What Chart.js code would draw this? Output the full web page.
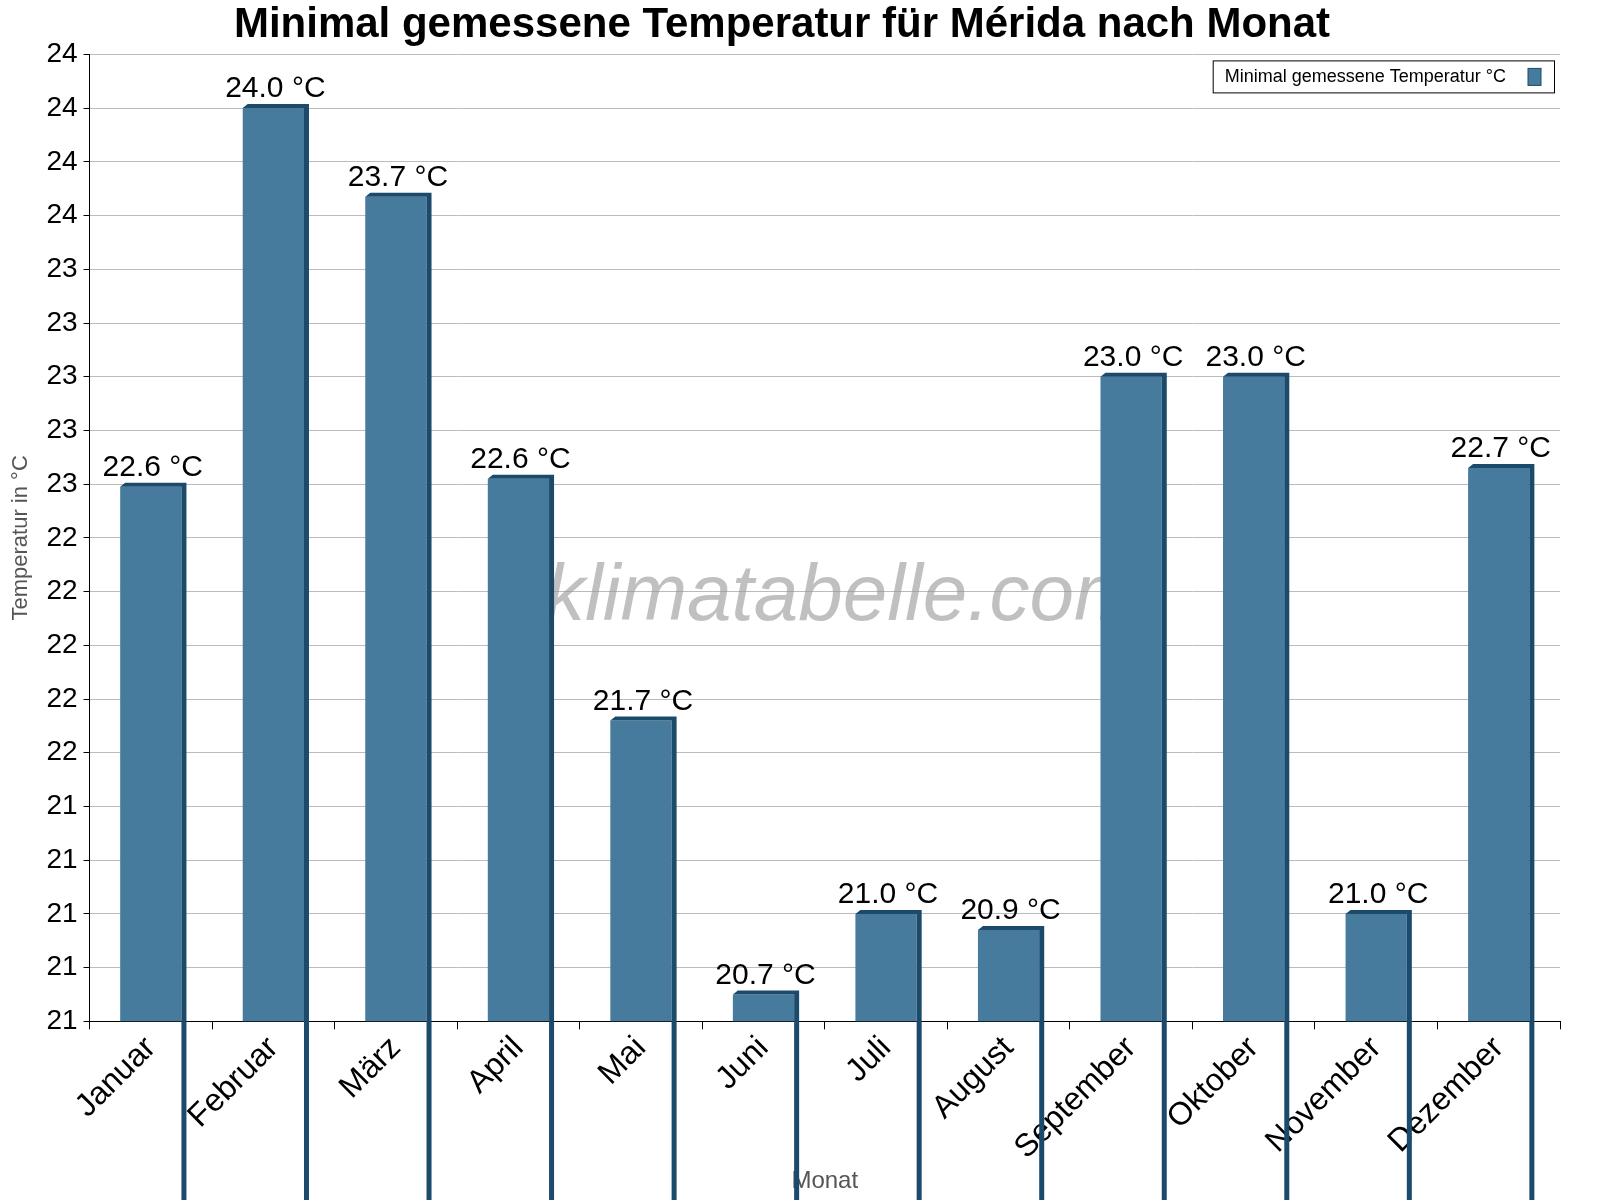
<!DOCTYPE html>
<html><head><meta charset="utf-8">
<script src="https://cdn.jsdelivr.net/npm/chart.js@4/dist/chart.umd.min.js"></script>
<style>html,body{margin:0;padding:0;background:#fff}#wrap{width:1600px;height:1200px}</style>
</head><body><div id="wrap"><canvas id="c"></canvas></div>
<script>
const categories=["Januar","Februar","März","April","Mai","Juni","Juli","August","September","Oktober","November","Dezember"];
const values=[22.59,24.0,23.67,22.62,21.72,20.7,21.0,20.94,23.0,23.0,21.0,22.66];
const seriesName="Minimal gemessene Temperatur °C";
const titleText="Minimal gemessene Temperatur für Mérida nach Monat";
const yMin=20.6, yMax=24.2, yStep=0.2;
const F="'Liberation Sans', Arial, sans-serif";

const deco={id:'deco',
 beforeDatasetsDraw(ch){const ctx=ch.ctx,a=ch.chartArea;ctx.save();
  ctx.font="italic 80px "+F;ctx.fillStyle="rgba(150,150,150,0.6)";ctx.textAlign="center";ctx.textBaseline="middle";
  ctx.fillText("klimatabelle.com",(a.left+a.right)/2+18,(a.top+a.bottom)/2+60);ctx.restore();},
 afterDatasetsDraw(ch){const ctx=ch.ctx,a=ch.chartArea;const meta=ch.getDatasetMeta(0);ctx.save();
  meta.data.forEach((b,i)=>{const w=b.width,l=b.x-w/2,r=b.x+w/2,t=b.y,bot=b.base,d=5;
   ctx.fillStyle="#1b4a6b";
   ctx.beginPath();ctx.moveTo(l,t);ctx.lineTo(l+d,t-d+1);ctx.lineTo(r+d,t-d+1);ctx.lineTo(r+d,bot);ctx.lineTo(r,bot);ctx.lineTo(r,t);ctx.closePath();ctx.fill();
   ctx.font="30px "+F;ctx.fillStyle="#000";ctx.textAlign="center";ctx.textBaseline="bottom";
   ctx.fillText(values[i].toFixed(1)+" °C",b.x+2,t-4);});
  // legend
  ctx.font="18px "+F;const tw=ctx.measureText(seriesName).width;const bw=tw+60,bh=32,bx=a.right-6-bw,by=a.top+6;
  ctx.fillStyle="#fff";ctx.fillRect(bx,by,bw,bh);ctx.strokeStyle="#000";ctx.lineWidth=1;ctx.strokeRect(bx+0.5,by+0.5,bw,bh);
  ctx.fillStyle="#000";ctx.textAlign="left";ctx.textBaseline="middle";ctx.fillText(seriesName,bx+12,by+bh/2+1);
  ctx.fillStyle="#467b9e";ctx.fillRect(bx+bw-26,by+8,13,17);ctx.strokeStyle="#1b4a6b";ctx.strokeRect(bx+bw-26,by+8,13,17);
  ctx.restore();}};

new Chart(document.getElementById('c'),{type:'bar',
 data:{labels:categories,datasets:[{label:seriesName,data:values,backgroundColor:"#467b9e",borderWidth:0,barPercentage:0.5,categoryPercentage:1}]},
 options:{responsive:true,maintainAspectRatio:false,animation:false,
  layout:{padding:{left:4,right:40,top:0,bottom:0}},
  plugins:{legend:{display:false},tooltip:{enabled:false},
   title:{display:true,text:titleText,color:"#000",font:{family:F,size:42},padding:{top:0,bottom:4}}},
  scales:{
   x:{grid:{display:true,drawOnChartArea:false,color:"#000",tickLength:8},border:{color:"#000"},
      ticks:{color:"#000",font:{family:F,size:32},maxRotation:45,minRotation:45,padding:0},
      title:{display:true,text:"Monat",color:"#555",font:{family:F,size:24},padding:{top:0}}},
   y:{min:yMin,max:yMax,grid:{color:"#bbb",tickLength:6,tickColor:"#000"},border:{color:"#000"},
      ticks:{stepSize:yStep,color:"#000",font:{family:F,size:28},callback:v=>Number(v).toFixed(0),padding:6},
      title:{display:true,text:"Temperatur in °C",color:"#555",font:{family:F,size:22},padding:{bottom:6}}}
  }},
 plugins:[deco,{id:'dash',beforeDraw(ch){ch.scales.y.options.grid.borderDash=[2,4];}}]
});
</script></body></html>
